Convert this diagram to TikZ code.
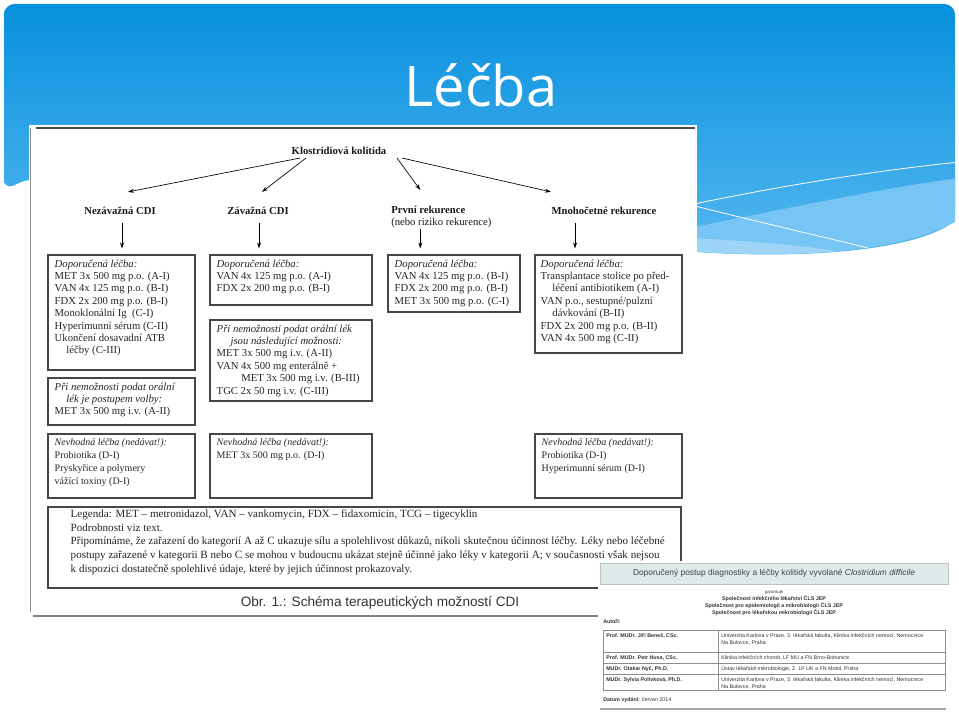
\documentclass[tikz,border=0pt]{standalone}
\usepackage{fontspec}
\setmainfont{Liberation Serif}
\newfontfamily\arialfont{Liberation Sans}
\newfontfamily\titlefont{Open Sans}
\usepackage{tikz}
\usetikzlibrary{positioning, arrows.meta, calc, fit}

\definecolor{slideblue}{RGB}{6,144,221}
\definecolor{slidelight}{RGB}{86,184,240}
\definecolor{bandone}{RGB}{118,197,244}
\definecolor{bandtwo}{RGB}{158,212,247}
\definecolor{framegray}{RGB}{70,70,70}
\definecolor{headteal}{RGB}{221,236,234}

\begin{document}
\begin{tikzpicture}[
  x=0.75pt, y=-0.75pt,
  font=\fontsize{8}{9.3}\selectfont,
  cell/.style={draw=framegray, line width=0.8pt, inner sep=0pt},
  celltext/.style={anchor=north west, align=left, inner sep=0pt, text=black!85},
  nevtext/.style={celltext, font=\fontsize{7.5}{9.6}\selectfont},
  head/.style={font=\bfseries\fontsize{8}{9.3}\selectfont, inner sep=0pt, text=black!90},
  arrow/.style={-{Stealth[length=4.5pt, width=3pt]}, line width=0.5pt},
  sdtext/.style={font=\arialfont\fontsize{4}{5.2}\selectfont, inner sep=0pt, text=black!80}
]
\useasboundingbox (0,0) rectangle (959,713);
\fill[white] (0,0) rectangle (959,713);

% ===== Slide background =====
\path[rounded corners=8pt, top color=slideblue, bottom color=slidelight]
  (4,190) -- (4,4) -- (955,4) -- (955,222)
  .. controls (900,252) and (800,258) .. (698,252) -- (30,178) -- cycle;
\begin{scope}
  \clip (4,190) -- (4,4) -- (955,4) -- (955,222)
    .. controls (900,252) and (800,258) .. (698,252) -- (30,178) -- cycle;
  \fill[bandone] (640,238) .. controls (760,214) and (880,188) .. (960,178) -- (960,270) -- (640,270) -- cycle;
  \fill[bandtwo] (640,236) .. controls (760,240) and (840,248) .. (890,262) -- (640,270) -- cycle;
  \draw[white, line width=0.6pt] (640,216) .. controls (760,188) and (880,170) .. (960,162);
  \draw[white, line width=0.6pt] (640,192) .. controls (740,218) and (820,236) .. (885,252);
\end{scope}

\node[font=\titlefont\fontsize{42}{42}\selectfont, text=white, anchor=base, inner sep=0pt] (title) at (481,107) {Léčba};

% ===== Scanned scheme =====
\fill[white] (29,125) rectangle (697,620);
\draw[black!70, line width=2.2pt] (36,128) -- (695,128);
\draw[black!45, line width=0.6pt] (30,128) -- (30,612);
\draw[black!50, line width=1.6pt] (33,616) -- (598,616);

\node[head] (klost) at (339,151) {Klostridiová kolitida};

\node[head] (nez) at (120,211) {Nezávažná CDI};
\node[head] (zav) at (258,211) {Závažná CDI};
\node[head, align=left, anchor=north west] (prvni) at (391,206)
  {První rekurence\\[-0.5pt]{\normalfont (nebo riziko rekurence)}};
\node[head] (mnoh) at (604,211) {Mnohočetné rekurence};

\draw[arrow] ($(klost.south)+(-39,3)$) -- ($(nez.north)+(8,-15)$);
\draw[arrow] ($(klost.south)+(-33,3)$) -- ($(zav.north)+(4,-15)$);
\draw[arrow] ($(klost.south)+(58,3)$) -- ($(prvni.north)+(-21,-16)$);
\draw[arrow] ($(klost.south)+(63,3)$) -- ($(mnoh.north)+(-53,-15)$);

% ----- boxes -----
\node[cell, fit={(48,255) (195,370)}] (a1) {};
\node[cell, fit={(48,378) (195,425)}] (a2) {};
\node[cell, fit={(48,434) (195,498)}] (a3) {};
\node[cell, fit={(210,255) (372,305)}] (b1) {};
\node[cell, fit={(210,320) (372,401)}] (b2) {};
\node[cell, fit={(210,434) (372,498)}] (b3) {};
\node[cell, fit={(388,255) (520,312)}] (c1) {};
\node[cell, fit={(535,255) (682,353)}] (d1) {};
\node[cell, fit={(535,434) (682,498)}] (d3) {};
\node[cell, fit={(48,507) (681,588)}] (leg) {};

\draw[arrow] ($(nez.south)+(2,8)$) -- ($(nez.south |- a1.north)+(2,-6)$);
\draw[arrow] ($(zav.south)+(1,8)$) -- ($(zav.south |- b1.north)+(1,-6)$);
\draw[arrow] ($(prvni.south)+(-21,1)$) -- ($(prvni.south |- c1.north)+(-21,-6)$);
\draw[arrow] ($(mnoh.south)+(-29,8)$) -- ($(mnoh.south |- d1.north)+(-29,-6)$);

\node[celltext] (a1t) at ($(a1.north west)+(7,5)$)
{\textit{Doporučená léčba:}\\
MET 3x 500 mg p.o. (A-I)\\
VAN 4x 125 mg p.o. (B-I)\\
FDX 2x 200 mg p.o. (B-I)\\
Monoklonální Ig~ (C-I)\\
Hyperimunní sérum (C-II)\\
Ukončení dosavadní ATB\\
\hspace*{1.1em}léčby (C-III)};

\node[celltext] (a2t) at ($(a2.north west)+(7,5)$)
{\textit{Při nemožnosti podat orální}\\
\hspace*{1.1em}\textit{lék je postupem volby:}\\
MET 3x 500 mg i.v. (A-II)};

\node[nevtext] (a3t) at ($(a3.north west)+(7,5)$)
{\textit{Nevhodná léčba (nedávat!):}\\
Probiotika (D-I)\\
Pryskyřice a polymery\\
vážící toxiny (D-I)};

\node[celltext] (b1t) at ($(b1.north west)+(7,5)$)
{\textit{Doporučená léčba:}\\
VAN 4x 125 mg p.o. (A-I)\\
FDX 2x 200 mg p.o. (B-I)};

\node[celltext] (b2t) at ($(b2.north west)+(7,5)$)
{\textit{Při nemožnosti podat orální lék}\\
\hspace*{1.3em}\textit{jsou následující možnosti:}\\
MET 3x 500 mg i.v. (A-II)\\
VAN 4x 500 mg enterálně +\\
\hspace*{2.3em}MET 3x 500 mg i.v. (B-III)\\
TGC 2x 50 mg i.v. (C-III)};

\node[nevtext] (b3t) at ($(b3.north west)+(7,5)$)
{\textit{Nevhodná léčba (nedávat!):}\\
MET 3x 500 mg p.o. (D-I)};

\node[celltext] (c1t) at ($(c1.north west)+(7,5)$)
{\textit{Doporučená léčba:}\\
VAN 4x 125 mg p.o. (B-I)\\
FDX 2x 200 mg p.o. (B-I)\\
MET 3x 500 mg p.o. (C-I)};

\node[celltext] (d1t) at ($(d1.north west)+(6,5)$)
{\textit{Doporučená léčba:}\\
Transplantace stolice po před-\\
\hspace*{1.1em}léčení antibiotikem (A-I)\\
VAN p.o., sestupné/pulzní\\
\hspace*{1.1em}dávkování (B-II)\\
FDX 2x 200 mg p.o. (B-II)\\
VAN 4x 500 mg (C-II)};

\node[nevtext] (d3t) at ($(d3.north west)+(7,5)$)
{\textit{Nevhodná léčba (nedávat!):}\\
Probiotika (D-I)\\
Hyperimunní sérum (D-I)};

\node[celltext, font=\fontsize{8.3}{10.3}\selectfont] (legt) at ($(leg.north west)+(23,3)$)
{Legenda: MET – metronidazol, VAN – vankomycin, FDX – fidaxomicin, TCG – tigecyklin\\
Podrobnosti viz text.\\
Připomínáme, že zařazení do kategorií A až C ukazuje sílu a spolehlivost důkazů, nikoli skutečnou účinnost léčby. Léky nebo léčebné\\
postupy zařazené v kategorii B nebo C se mohou v budoucnu ukázat stejně účinné jako léky v kategorii A; v současnosti však nejsou\\
k dispozici dostatečně spolehlivé údaje, které by jejich účinnost prokazovaly.};

\node[font=\arialfont\fontsize{10.2}{10.2}\selectfont, text=black!80, inner sep=0pt] (caption)
  at (380,603) {Obr. 1.: Schéma terapeutických možností CDI};

% ===== Guideline title page =====
\fill[white] (598,561) rectangle (952,713);
\node[draw=black!25, fill=headteal, line width=0.5pt, inner sep=0pt,
  fit={(600,563) (948,584)}] (sdhead) {};
\node[font=\arialfont\fontsize{6.3}{6.5}\selectfont, text=black!75, inner sep=0pt] (sdtitle)
  at (sdhead.center) {Doporučený postup diagnostiky a léčby kolitidy vyvolané \textit{Clostridium difficile}};

\node[sdtext, font=\arialfont\fontsize{3.3}{4}\selectfont] (garant) at (774,592) {garantuje};
\node[sdtext, font=\arialfont\bfseries\fontsize{4}{5.2}\selectfont, align=center, below=0.6pt of garant] (spol)
  {Společnost infekčního lékařství ČLS JEP\\
   Společnost pro epidemiologii a mikrobiologii ČLS JEP\\
   Společnost pro lékařskou mikrobiologii ČLS JEP};

\node[sdtext, font=\arialfont\bfseries\fontsize{4}{5}\selectfont, anchor=west] (autori) at (603,622) {Autoři:};

\draw[black!45, line width=0.5pt] (603,630) rectangle (945,690);
\draw[black!45, line width=0.5pt] (603,652) -- (945,652) (603,663) -- (945,663) (603,674) -- (945,674)
  (718,630) -- (718,690);

\node[sdtext, font=\arialfont\bfseries\fontsize{4}{5}\selectfont, anchor=north west] (aut1) at (606,633) {Prof. MUDr. Jiří Beneš, CSc.};
\node[sdtext, font=\arialfont\bfseries\fontsize{4}{5}\selectfont, anchor=north west] (aut2) at (606,655) {Prof. MUDr. Petr Husa, CSc.};
\node[sdtext, font=\arialfont\bfseries\fontsize{4}{5}\selectfont, anchor=north west] (aut3) at (606,666) {MUDr. Otakar Nyč, Ph.D.};
\node[sdtext, font=\arialfont\bfseries\fontsize{4}{5}\selectfont, anchor=north west] (aut4) at (606,677) {MUDr. Sylvia Polívková, Ph.D.};

\node[sdtext, anchor=north west, align=left] (pra1) at (721,633)
  {Univerzita Karlova v Praze, 3. lékařská fakulta, Klinika infekčních nemocí, Nemocnice\\Na Bulovce, Praha};
\node[sdtext, anchor=north west] (pra2) at (721,655) {Klinika infekčních chorob, LF MU a FN Brno-Bohunice};
\node[sdtext, anchor=north west] (pra3) at (721,666) {Ústav lékařské mikrobiologie, 2. LF UK a FN Motol, Praha};
\node[sdtext, anchor=north west, align=left] (pra4) at (721,677)
  {Univerzita Karlova v Praze, 3. lékařská fakulta, Klinika infekčních nemocí, Nemocnice\\Na Bulovce, Praha};

\node[sdtext, anchor=west] (datum) at (603,700) {\textbf{Datum vydání:} červen 2014};
\draw[black!35, line width=2pt] (600,709) -- (946,709);

\end{tikzpicture}
\end{document}
